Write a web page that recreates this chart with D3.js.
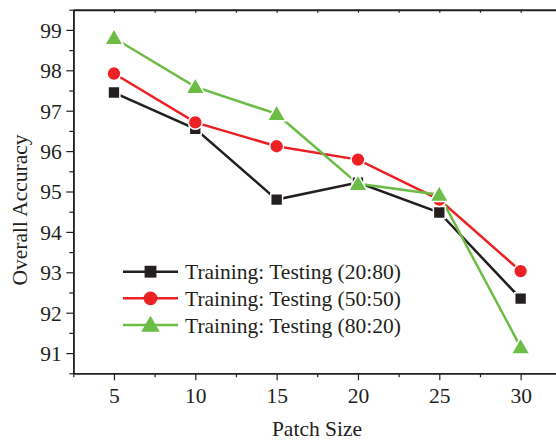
<!DOCTYPE html>
<html>
<head>
<meta charset="utf-8">
<script src="https://cdn.jsdelivr.net/npm/d3@7"></script>
<style>
  html, body { margin: 0; padding: 0; background: #fff; }
  svg { display: block; }
  text { font-family: "Liberation Serif", "Times New Roman", serif; fill: #231f20; }
</style>
</head>
<body>
<svg id="chart" width="556" height="441"></svg>
<script>
// ---- data ----
const patchSizes = [5, 10, 15, 20, 25, 30];
const seriesNames = ["Training: Testing (20:80)", "Training: Testing (50:50)", "Training: Testing (80:20)"];
const acc2080 = [97.45, 96.55, 94.80, 95.22, 94.48, 92.35];
const acc5050 = [97.92, 96.71, 96.12, 95.79, 94.80, 93.03];
const acc8020 = [98.80, 97.59, 96.92, 95.19, 94.92, 91.15];
const xTicks = [5, 10, 15, 20, 25, 30];
const yTicks = [91, 92, 93, 94, 95, 96, 97, 98, 99];
const xLabel = "Patch Size";
const yLabel = "Overall Accuracy";

const colors = ["#231f20", "#ed2024", "#6cbd45"];
const symbols = [d3.symbolSquare, d3.symbolCircle, d3.symbolTriangle];
const symSizes = [140, 150, 150];
const seriesValues = [acc2080, acc5050, acc8020];

const svg = d3.select("#chart");
const mLeft = 73.3, mTop = 9.7, mBottom = 373.3, mRight = 561.3;

const x = d3.scaleLinear().domain([2.5, 32.5]).range([mLeft, mRight]);
const y = d3.scaleLinear().domain([90.5, 99.5]).range([mBottom, mTop]);

const fs = "21.5px";
const axisColor = "#231f20";

// minor ticks
const xMinor = d3.range(2.5, 33, 2.5).filter(v => v % 5 !== 0);
const yMinor = d3.range(90.5, 99.6, 0.5).filter(v => v % 1 !== 0);

// bottom axis
const gx = svg.append("g").attr("transform", `translate(0,${mBottom})`)
  .call(d3.axisBottom(x).tickValues(xTicks).tickSize(7).tickSizeOuter(0).tickFormat(d3.format("d")));
gx.selectAll("text").attr("y", 30).attr("dy", 0).style("font-size", fs);
svg.append("g").attr("transform", `translate(0,${mBottom})`)
  .call(d3.axisBottom(x).tickValues(xMinor).tickSize(4).tickSizeOuter(0).tickFormat(""));

// top axis (ticks inward)
const gTop = svg.append("g").attr("transform", `translate(0,${mTop})`)
  .call(d3.axisBottom(x).tickValues(xTicks.concat(xMinor)).tickSize(3).tickSizeOuter(0).tickFormat(""));

// left axis
const gy = svg.append("g").attr("transform", `translate(${mLeft},0)`)
  .call(d3.axisLeft(y).tickValues(yTicks).tickSize(7).tickSizeOuter(0).tickPadding(4.5).tickFormat(d3.format("d")));
gy.selectAll("text").attr("dy", "0.34em").style("font-size", fs);
svg.append("g").attr("transform", `translate(${mLeft},0)`)
  .call(d3.axisLeft(y).tickValues(yMinor).tickSize(4).tickSizeOuter(0).tickFormat(""));

svg.selectAll(".domain").attr("stroke", axisColor).attr("stroke-width", 1.6);
svg.selectAll(".tick line").attr("stroke", axisColor).attr("stroke-width", 1.2);
gTop.select(".domain").attr("stroke-width", 2);

// axis titles
svg.append("text").attr("x", 317).attr("y", 436).attr("text-anchor", "middle")
  .style("font-size", fs).text(xLabel);
svg.append("text").attr("transform", `translate(27,210) rotate(-90)`).attr("text-anchor", "middle")
  .style("font-size", fs).text(yLabel);

// lines and markers
const line = d3.line().x((d, i) => x(patchSizes[i])).y(d => y(d));
seriesValues.forEach((vals, s) => {
  svg.append("path").datum(vals)
    .attr("d", line).attr("fill", "none")
    .attr("stroke", colors[s]).attr("stroke-width", 2.5);
});
seriesValues.forEach((vals, s) => {
  svg.append("g").selectAll("path").data(vals).join("path")
    .attr("transform", (d, i) => `translate(${x(patchSizes[i])},${y(d) + (s === 2 ? 1.5 : 0)})`)
    .attr("d", d3.symbol().type(symbols[s]).size(symSizes[s]))
    .attr("fill", colors[s]).attr("stroke", "#fff").attr("stroke-width", 1.5);
});

// legend
const legRows = [271.7, 298.3, 325];
seriesNames.forEach((name, s) => {
  const g = svg.append("g").attr("transform", `translate(0,${legRows[s]})`);
  g.append("line").attr("x1", 123).attr("x2", 178).attr("y1", 0).attr("y2", 0)
    .attr("stroke", colors[s]).attr("stroke-width", 2.5);
  g.append("path").attr("transform", `translate(150.5,${s === 2 ? 1.5 : 0})`)
    .attr("d", d3.symbol().type(symbols[s]).size(symSizes[s]))
    .attr("fill", colors[s]);
  g.append("text").attr("x", 185).attr("y", 7.5).style("font-size", fs).text(name);
});
</script>
</body>
</html>
